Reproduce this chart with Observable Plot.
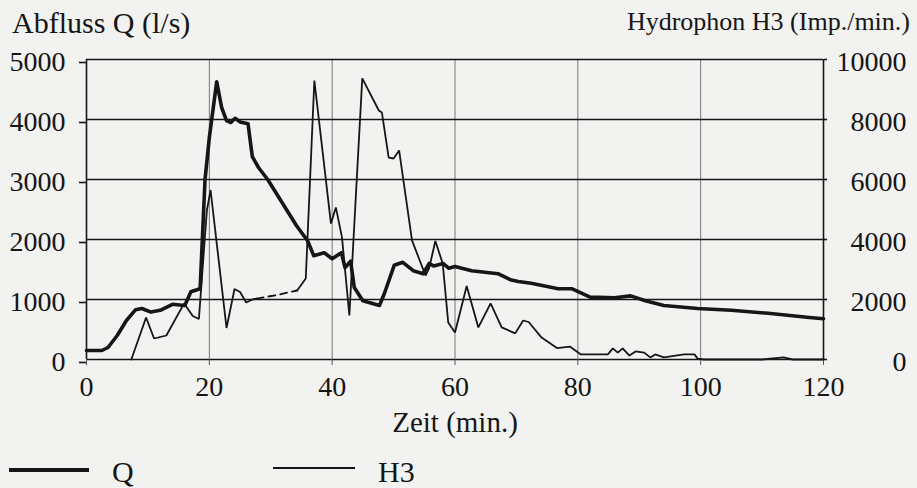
<!DOCTYPE html>
<html><head><meta charset="utf-8">
<script src="https://cdn.jsdelivr.net/npm/d3@7"></script>
<script src="https://cdn.jsdelivr.net/npm/@observablehq/plot@0.6"></script>
<style>
body{margin:0;background:#f2f2f0;font-family:"Liberation Serif",serif;color:#161616;}
#wrap{position:relative;width:917px;height:488px;overflow:hidden;}
#head{position:relative;height:40px;}
#head span{position:absolute;white-space:nowrap;}
#t1{left:12px;top:8px;font-size:30px;line-height:30px;}
#t2{right:7px;top:9px;font-size:26px;line-height:26px;}
#legend{position:relative;height:58px;}
#legend .ln{position:absolute;background:#161616;}
#legend .lb{position:absolute;font-size:30px;line-height:30px;white-space:nowrap;}
svg{display:block;}
svg text{font-family:"Liberation Serif",serif !important;}
</style>
</head><body>
<div id="wrap">
  <div id="head"><span id="t1">Abfluss Q (l/s)</span><span id="t2">Hydrophon H3 (Imp./min.)</span></div>
  <div id="chart"></div>
  <div id="legend">
    <div class="ln" style="left:9px;top:38px;width:80px;height:3.5px"></div>
    <div class="lb" style="left:112px;top:27px">Q</div>
    <div class="ln" style="left:273px;top:37px;width:82px;height:1.8px"></div>
    <div class="lb" style="left:378px;top:27px">H3</div>
  </div>
</div>
<script>
// Abfluss Q (l/s)
const qTime  = [0, 2.5, 3.5, 5, 6.5, 8, 9, 10.5, 12, 14, 16, 17, 18.5, 19.3, 20, 21.2, 22, 22.8, 23.5, 24.2, 25, 26.3, 27, 28, 29.5, 34.2, 36, 37, 38.7, 40, 41.5, 42.1, 43, 43.6, 45, 47.7, 48.5, 50.1, 51.5, 53.2, 54.8, 55.8, 56.5, 58.1, 59, 60, 62.7, 67, 69, 70.3, 72.4, 76.8, 79, 82, 86, 88.6, 91, 94, 99.5, 105, 111, 117.7, 120];
const qValue = [150, 150, 200, 400, 650, 830, 850, 790, 820, 920, 900, 1130, 1180, 3000, 3700, 4630, 4200, 3980, 3950, 4020, 3960, 3930, 3380, 3200, 3000, 2230, 1980, 1730, 1780, 1680, 1780, 1530, 1640, 1200, 980, 900, 1100, 1570, 1620, 1480, 1430, 1600, 1560, 1600, 1520, 1550, 1480, 1430, 1330, 1300, 1270, 1180, 1180, 1040, 1030, 1060, 980, 900, 850, 820, 770, 700, 680];

// Hydrophon H3 (Imp./min.), solid part before the gap
const h3aTime  = [7.3, 9.7, 11, 13, 15.9, 17.3, 18.3, 19.6, 20.2, 22.8, 24.1, 25, 26, 27, 27.7];
const h3aValue = [0, 1400, 700, 800, 1870, 1450, 1350, 4970, 5650, 1050, 2350, 2250, 1900, 2000, 2030];
// dashed part (gap in the record)
const h3gapTime  = [27.7, 31, 34.3];
const h3gapValue = [2030, 2150, 2300];
// solid part after the gap
const h3bTime  = [34.3, 35.7, 37.1, 39.8, 40.6, 41.6, 42.8, 44.9, 47.6, 48.1, 49.2, 50, 50.9, 53, 55.2, 55.8, 56.8, 58, 58.9, 60, 61.9, 63.8, 65.8, 67.6, 69.8, 71.1, 72, 74.1, 76.6, 78.7, 80.5, 84.9, 85.7, 86.5, 87.3, 88.4, 89.4, 90.8, 91.8, 92.6, 94, 97.3, 99, 99.5, 100.5, 110, 113.5, 115, 120];
const h3bValue = [2300, 2700, 9300, 4530, 5070, 4070, 1470, 9370, 8300, 8230, 6730, 6700, 6970, 3970, 2800, 3050, 3950, 3200, 1230, 900, 2450, 1070, 1870, 1070, 870, 1300, 1250, 730, 380, 430, 170, 170, 370, 230, 370, 130, 270, 230, 70, 170, 70, 170, 170, 30, 0, 0, 70, 0, 0];

const xTicks = [0, 20, 40, 60, 80, 100, 120];
const xGrid = [20, 40, 60, 80, 100];
const yTicks = [0, 1000, 2000, 3000, 4000, 5000];
const h3Factor = 2; // right axis = 2 × left axis

const qData = qTime.map((t, i) => ({t, v: qValue[i]}));
const toH = (ts, vs) => ts.map((t, i) => ({t, v: vs[i] / h3Factor}));
const h3a = toH(h3aTime, h3aValue);
const h3gap = toH(h3gapTime, h3gapValue);
const h3b = toH(h3bTime, h3bValue);

const ink = "#161616";
const chart = Plot.plot({
  width: 917,
  height: 390,
  marginTop: 19,
  marginBottom: 71,
  marginLeft: 86,
  marginRight: 94,
  style: {fontFamily: "'Liberation Serif', serif", background: "transparent", color: ink, overflow: "visible"},
  x: {domain: [0, 120]},
  y: {domain: [0, 5000]},
  marks: [
    Plot.gridX(xGrid, {stroke: "#777", strokeWidth: 1, strokeOpacity: 1}),
    Plot.gridY(yTicks, {stroke: ink, strokeWidth: 1.6, strokeOpacity: 1}),
    Plot.ruleX([0, 120], {stroke: ink, strokeWidth: 1.6}),
    Plot.axisY({anchor: "left", ticks: yTicks, tickSize: 7, tickPadding: 14, fontSize: 28, label: null, tickFormat: d => String(d), stroke: ink, strokeWidth: 1.6, dy: 3}),
    Plot.axisY({anchor: "right", ticks: yTicks, tickSize: 3, tickFormat: () => "", label: null, stroke: ink, strokeWidth: 1.6}),
    Plot.text(yTicks, {y: d => d, text: d => String(d * h3Factor), frameAnchor: "right", textAnchor: "end", dx: 83, dy: 3, fontSize: 28, fill: ink}),
    Plot.axisX({ticks: xTicks, tickSize: 6, tickPadding: 11, fontSize: 28, label: null, tickFormat: d => String(d), stroke: "#555"}),
    Plot.text(["Zeit (min.)"], {frameAnchor: "bottom", lineAnchor: "middle", dy: 63, fontSize: 29, fill: ink}),
    Plot.line(h3a, {x: "t", y: "v", stroke: ink, strokeWidth: 1.8, strokeLinejoin: "miter"}),
    Plot.line(h3gap, {x: "t", y: "v", stroke: ink, strokeWidth: 1.8, strokeDasharray: "7,5"}),
    Plot.line(h3b, {x: "t", y: "v", stroke: ink, strokeWidth: 1.8, strokeLinejoin: "miter"}),
    Plot.line(qData, {x: "t", y: "v", stroke: ink, strokeWidth: 3.6, strokeLinejoin: "round"})
  ]
});
document.getElementById("chart").appendChild(chart);
</script>
</body></html>
